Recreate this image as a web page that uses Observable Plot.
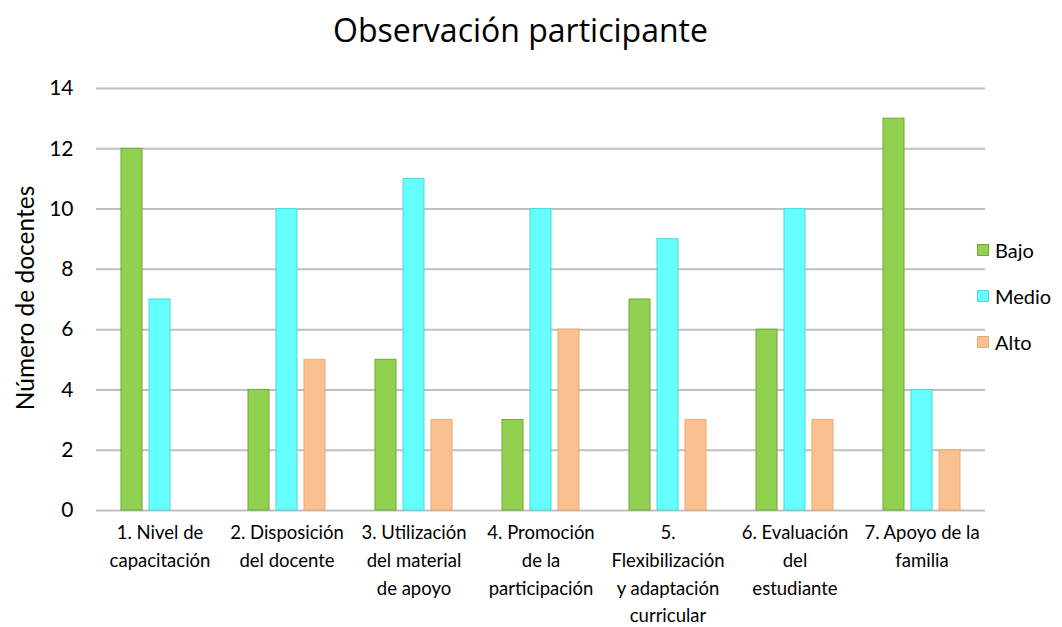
<!DOCTYPE html>
<html><head><meta charset="utf-8">
<script src="https://cdn.jsdelivr.net/npm/d3@7"></script>
<script src="https://cdn.jsdelivr.net/npm/@observablehq/plot@0.6"></script>
<style>
body{margin:0;background:#fff;font-family:Lato,"Open Sans",sans-serif;color:#000;}
#wrap{position:relative;width:1062px;height:627px;overflow:hidden;}
#title{position:absolute;left:0;width:1041px;top:8px;text-align:center;font-family:"Open Sans",sans-serif;font-size:32px;line-height:44px;}
#chart{position:absolute;left:0;top:60px;}
#ylab{position:absolute;left:24px;top:298px;transform:translate(-50%,-50%) rotate(-90deg);white-space:nowrap;font-size:24.5px;}
.leg{position:absolute;left:977px;font-size:20px;line-height:24px;display:flex;align-items:center;transform:translateY(-50%);}
.leg span.sw{display:inline-block;width:10px;height:10px;margin-right:6px;}
</style></head>
<body><div id="wrap">
<div id="title">Observación participante</div>
<div id="chart"></div>
<div id="ylab">Número de docentes</div>
<div id="legend"></div>
</div>
<script>
const categories = ["1. Nivel de\ncapacitación", "2. Disposición\ndel docente", "3. Utilización\ndel material\nde apoyo", "4. Promoción\nde la\nparticipación", "5.\nFlexibilización\ny adaptación\ncurricular", "6. Evaluación\ndel\nestudiante", "7. Apoyo de la\nfamilia"];
const series = ["Bajo", "Medio", "Alto"];
const bajo = [12, 4, 5, 3, 7, 6, 13];
const medio = [7, 10, 11, 10, 9, 10, 4];
const alto = [0, 5, 3, 6, 3, 3, 2];
const yTicks = [0, 2, 4, 6, 8, 10, 12, 14];
const fills = ["#92d050", "#66ffff", "#fac090"];
const strokes = ["#6fa83a", "#4ad8d8", "#e8aa78"];

const values = [bajo, medio, alto];
const data = [];
categories.forEach((c, i) => series.forEach((s, j) => {
  if (values[j][i] > 0) data.push({cat: c, serie: s, value: values[j][i]});
}));

const chart = Plot.plot({
  width: 1062,
  height: 567,
  marginLeft: 95,
  marginRight: 77,
  marginTop: 28,
  marginBottom: 117,
  style: {fontFamily: "Lato, sans-serif", color: "#000", background: "#fff"},
  fx: {domain: categories, padding: 0},
  x: {domain: series, paddingInner: 0.24, paddingOuter: 0.85, axis: null},
  y: {domain: [0, 14]},
  color: {domain: series, range: fills},
  marks: [
    Plot.gridY(yTicks, {stroke: "#bfbfbf", strokeOpacity: 1, strokeWidth: 2}),
    Plot.barY(data, {fx: "cat", x: "serie", y: "value", fill: "serie",
      stroke: d => strokes[series.indexOf(d.serie)], strokeWidth: 1}),
    Plot.axisY(yTicks, {tickSize: 0, tickPadding: 23, fontSize: 21, label: null}),
    Plot.axisFx({anchor: "bottom", tickSize: 0, tickPadding: 9, fontSize: 18.5, lineHeight: 1.5, label: null})
  ]
});
document.getElementById("chart").appendChild(chart);

const legendTops = [250, 296, 342];
const leg = document.getElementById("legend");
series.forEach((s, j) => {
  const d = document.createElement("div");
  d.className = "leg";
  d.style.top = legendTops[j] + "px";
  d.innerHTML = `<span class="sw" style="background:${fills[j]};border:1px solid ${strokes[j]}"></span>${s}`;
  leg.appendChild(d);
});
</script>
</body></html>
